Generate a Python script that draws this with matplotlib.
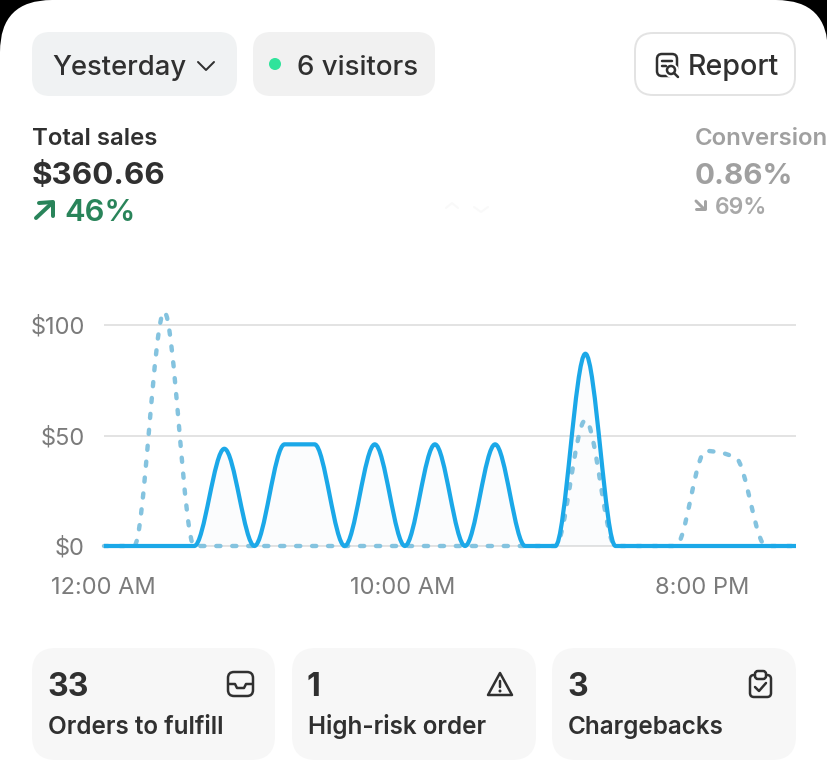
import numpy as np
import matplotlib
matplotlib.use("Agg")
import matplotlib.pyplot as plt
from matplotlib.patches import FancyBboxPatch, PathPatch, Circle, Polygon
from matplotlib.path import Path
from matplotlib.transforms import ScaledTranslation

hours = list(range(24))
sales_today = [0, 0, 0, 0, 44, 0, 46, 46, 0, 46, 0, 46, 0, 46, 0, 0, 87, 0, 0, 0, 0, 0, 0, 0]
sales_previous = [0, 0, 106, 0, 0, 0, 0, 0, 0, 0, 0, 0, 0, 0, 0, 0, 57, 0, 0, 0, 43, 40, 0, 0]
y_ticks = [0, 50, 100]
y_labels = ["$0", "$50", "$100"]
x_ticks = [0, 10, 20]
x_labels = ["12:00 AM", "10:00 AM", "8:00 PM"]
total_title = "Total sales"
total_value = "$360.66"
total_change = "46%"
conv_title = "Conversion"
conv_value = "0.86%"
conv_change = "69%"
card_values = ["33", "1", "3"]
card_labels = ["Orders to fulfill", "High-risk order", "Chargebacks"]

plt.rcParams["font.family"] = ["Inter", "DejaVu Sans"]
plt.rcParams["lines.scale_dashes"] = False
W, H = 828, 773
DARK = "#303030"
fig = plt.figure(figsize=(W / 100, H / 100), dpi=100, facecolor="#000000")

ui = fig.add_axes([0, 0, 1, 1], zorder=1)
ui.set_xlim(0, W)
ui.set_ylim(H, 0)
ui.axis("off")

def px(v):
    return v * 0.72

def box(x0, y0, x1, y1, r, fc, ec="none", lw=0, ax=ui):
    p = FancyBboxPatch((x0 + r, y0 + r), x1 - x0 - 2 * r, y1 - y0 - 2 * r,
                       boxstyle=f"round,pad={r},rounding_size={r}", fc=fc, ec=ec, lw=lw)
    ax.add_patch(p)
    return p

def text(x, y, s, size, weight=500, color=DARK, ha="left"):
    ui.text(x, y, s, fontsize=px(size), fontweight=weight, color=color, ha=ha, va="baseline", clip_on=False)

def stroke(pts, color=DARK, lw=2.5, closed=False):
    xs, ys = zip(*pts)
    ui.plot(xs, ys, color=color, lw=px(lw), solid_capstyle="round", solid_joinstyle="round")

# card background with dark rounded corners
box(0, 0, W, H + 80, 52, "#ffffff")

# header pills
box(32, 32, 237, 96, 18, "#f0f2f3")
box(253, 32, 435, 96, 18, "#f1f1f1")
box(635, 33, 795, 95, 18, "#ffffff", ec="#e3e3e3", lw=1.4)
text(52, 75, "Yesterday", 27.4)
stroke([(198, 62), (206, 70), (214, 62)], lw=2)
ui.add_patch(Circle((275, 64), 6, fc="#2fe39b", ec="none"))
text(297, 75, "6 visitors", 27.6)
text(688, 75, "Report", 28.6)
# report icon
box(657, 54, 677, 76, 5, "none", ec=DARK, lw=px(2.5))
ui.add_patch(Circle((672, 71), 7, fc="#ffffff", ec="none"))
ui.add_patch(Circle((671, 70), 4, fc="none", ec=DARK, lw=px(2.5)))
stroke([(674, 73), (678, 77)])
stroke([(662, 61), (672, 61)])
stroke([(662, 66), (666, 66)])

# metrics
text(32, 145, total_title, 24, 600)
text(32, 184, total_value, 31.4, 700)
stroke([(36, 218), (52, 203)], color="#29845a", lw=4)
stroke([(39, 203), (53, 202), (53, 216)], color="#29845a", lw=4)
text(64, 221, total_change, 31, 600, "#29845a")
text(695, 145, conv_title, 24.0, 600, "#a0a0a0")
text(695, 184, conv_value, 29.6, 700, "#a0a0a0")
stroke([(696, 201), (704, 209)], color="#a3a3a3", lw=3)
stroke([(696, 209), (705, 209), (705, 201)], color="#a3a3a3", lw=3)
text(715, 214, conv_change, 23, 600, "#a8a8a8")
stroke([(446, 208), (452, 203), (458, 208)], color="#f9f9f9", lw=2)
stroke([(474, 207), (481, 212), (488, 207)], color="#f9f9f9", lw=2)

# bottom cards
card_edges = [(32, 275), (292, 536), (552, 796)]
for (a, b), v, l in zip(card_edges, card_values, card_labels):
    box(a, 648, b, 760, 24, "#f7f7f7")
    text(a + 15, 696, v, 32, 700)
    text(a + 16, 734, l, 24.3, 600)

# inbox icon
box(228, 672, 253, 696, 6, "none", ec=DARK, lw=px(2.5))
stroke([(229, 684), (235, 684), (237, 688), (244, 688), (246, 684), (252, 684)])
# warning icon
ui.add_patch(Polygon([(500, 673), (512, 695), (488, 695)], closed=True, fc="none", ec=DARK,
                     lw=px(2.5), joinstyle="round"))
stroke([(500, 681), (500, 687)])
ui.add_patch(Circle((500, 691), 1.5, fc=DARK, ec="none"))
# clipboard icon
box(750, 675, 771, 697, 4, "none", ec=DARK, lw=px(2.5))
box(755, 671, 766, 679, 3, "#f7f7f7", ec=DARK, lw=px(2.5))
stroke([(755, 687), (759, 691), (766, 683)])

# chart
Y0, Y100 = 546, 325
ppd = (Y0 - Y100) / 100
top, bottom = 300, 560
ax = fig.add_axes([104 / W, 1 - bottom / H, (796 - 104) / W, (bottom - top) / H], zorder=2)
ax.patch.set_alpha(0)
ax.set_xlim(0, 23)
ax.set_ylim((Y0 - bottom) / ppd, (Y0 - top) / ppd)
for s in ax.spines.values():
    s.set_visible(False)
ax.set_yticks(y_ticks, y_labels)
ax.set_xticks(x_ticks, x_labels)
ax.tick_params(length=0, colors="#7b7b7b", labelsize=px(23.6))
ax.tick_params(axis="y", pad=px(19))
ax.tick_params(axis="x", pad=px(17))
ax.grid(axis="y", color="#e3e3e3", lw=px(2))
ax.set_axisbelow(True)
for lab, dx in zip(ax.get_xticklabels(), [-1, -2, -4]):
    lab.set_transform(lab.get_transform() + ScaledTranslation(dx / 100, 0, fig.dpi_scale_trans))

def monotone_path(x, y):
    """Monotone-x cubic curve through the data, expressed as Bezier segments."""
    x = np.asarray(x, float)
    y = np.asarray(y, float)
    h = np.diff(x)
    s = np.diff(y) / h
    t = np.zeros_like(y)
    for i in range(1, len(y) - 1):
        if s[i - 1] * s[i] > 0:
            t[i] = (np.sign(s[i - 1]) + np.sign(s[i])) * min(abs(s[i - 1]), abs(s[i]),
                    0.25 * abs(s[i - 1] + s[i]))
    verts = [(x[0], y[0])]
    codes = [Path.MOVETO]
    for i in range(len(h)):
        d = h[i] / 3
        verts += [(x[i] + d, y[i] + t[i] * d), (x[i + 1] - d, y[i + 1] - t[i + 1] * d), (x[i + 1], y[i + 1])]
        codes += [Path.CURVE4] * 3
    return verts, codes

vp, cp = monotone_path(hours, sales_previous)
vt, ct = monotone_path(hours, sales_today)
area = Path(vt + [(hours[-1], 0), (hours[0], 0), (hours[0], 0)], ct + [Path.LINETO, Path.LINETO, Path.CLOSEPOLY])
ax.add_patch(PathPatch(area, fc="#5a9fd0", ec="none", alpha=0.025, zorder=2))
ax.add_patch(PathPatch(Path(vp, cp), fc="none", ec="#84c3df", lw=px(4.4), linestyle=(0, (3, 8.5)),
                       capstyle="round", zorder=3, clip_on=False))
ax.add_patch(PathPatch(Path(vt, ct), fc="none", ec="#1ba8e8", lw=px(4.2), capstyle="butt", joinstyle="round",
                       zorder=4, clip_on=False))

fig.savefig("out.png", dpi=100, facecolor=fig.get_facecolor())
